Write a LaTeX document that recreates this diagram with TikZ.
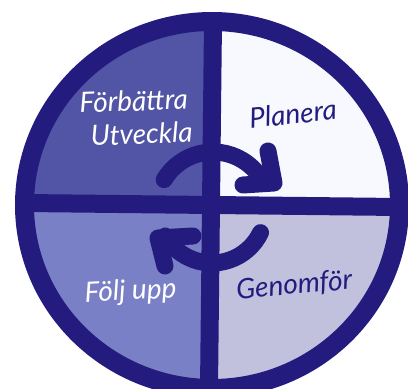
\documentclass[tikz,border=0pt]{standalone}
\usepackage{fontspec}
\setmainfont{Lato}
\definecolor{ringblue}{HTML}{231C7E}
\definecolor{quadimprove}{HTML}{5254A5}
\definecolor{quadplan}{HTML}{F8F9FE}
\definecolor{quaddo}{HTML}{C1C1DE}
\definecolor{quadcheck}{HTML}{7A80C6}

\begin{document}
\begin{tikzpicture}[x=1pt, y=1pt, line cap=round, line join=round,
    phase/.style={font=\fontsize{28}{30}\selectfont\itshape, inner sep=0pt, anchor=base},
    cycle arrow/.style={ringblue, line width=17}]
  \useasboundingbox (0,0) rectangle (408,389);
  % Centre and radii of the ring
  \def\midx{212} \def\midy{184}
  \def\radx{187.5} \def\rady{183.5}

  % Quadrant fills
  \begin{scope}
    \clip (\midx,\midy) ellipse [x radius=\radx, y radius=\rady];
    \fill[quadimprove] (\midx,\midy) rectangle (0,389);
    \fill[quadplan] (\midx,\midy) rectangle (408,389);
    \fill[quaddo] (\midx,\midy) rectangle (408,0);
    \fill[quadcheck] (\midx,\midy) rectangle (0,0);
  \end{scope}

  % Cross and outer ring
  \draw[ringblue, line width=18] (\midx+1,\midy+\rady) -- (\midx-3,\midy-\rady);
  \draw[ringblue, line width=18] (\midx-\radx,\midy+2) -- (\midx+\radx,\midy-2);
  \draw[ringblue, line width=19] (\midx,\midy) ellipse [x radius=\radx, y radius=\rady];

  % Upper arrow
  \draw[cycle arrow] (213,180) ++(149:57) arc (149:30:57);
  \coordinate (tipA) at (274,206);
  \draw[cycle arrow] (268,238) -- (tipA) -- (243,204);

  % Lower arrow
  \draw[cycle arrow] (212,180) ++(-26:54) arc (-26:-150:54);
  \coordinate (tipB) at (158,151);
  \draw[cycle arrow] (193,153) -- (tipB) -- (165,123);

  % Labels
  \node[phase, white, rotate=2] (improve) at (134,278) {Förbättra};
  \node[phase, white, rotate=2] (develop) at (142,245) {Utveckla};
  \node[phase, ringblue, rotate=6] (plan) at (294,265) {Planera};
  \node[phase, ringblue, rotate=5] (do) at (295,95) {Genomför};
  \node[phase, white, rotate=3] (check) at (131,89) {Följ upp};
\end{tikzpicture}
\end{document}
